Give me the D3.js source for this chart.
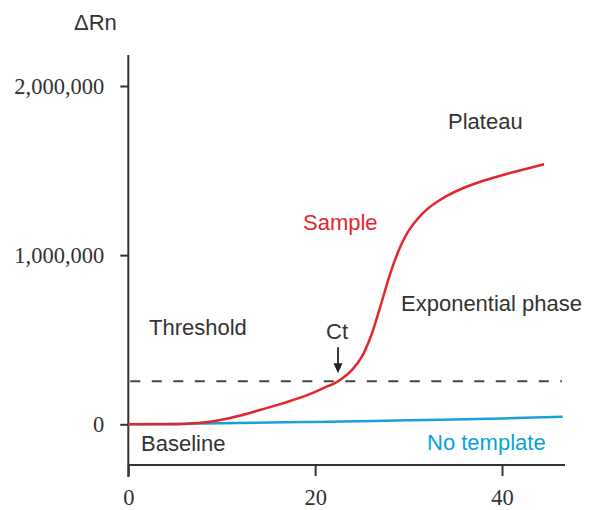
<!DOCTYPE html>
<html>
<head>
<meta charset="utf-8">
<script src="https://cdn.jsdelivr.net/npm/d3@7"></script>
<style>
  html, body { margin: 0; padding: 0; background: #fff; }
  svg { display: block; }
</style>
</head>
<body>
<svg id="chart" width="589" height="510"></svg>
<script>
// ---- data ----
const sampleCycles = [0, 2, 4, 6, 8, 10, 12, 14, 16, 17, 18, 19, 20, 21, 22, 23, 24, 25, 26, 27, 28, 29, 30, 31, 32, 33, 34, 36, 38, 40, 42, 44.5];
const sampleValues = [0, 0, 0, 2000, 10000, 27000, 52000, 83000, 115000, 132000, 150000, 170000, 192000, 217000, 240000, 275000, 325000, 400000, 525000, 700000, 885000, 1035000, 1143000, 1217000, 1272000, 1313000, 1348000, 1400000, 1440000, 1472000, 1502000, 1537000];
const noTemplateCycles = [0, 10, 20, 30, 40, 46.5];
const noTemplateValues = [0, 6000, 14000, 24000, 35000, 45000];
const thresholdValue = 254000;
const ctCycle = 22.5;
const yTicks = [0, 1000000, 2000000];
const xTicks = [0, 20, 40];
const yLabel = "ΔRn";
const annotations = [
  { text: "Plateau", x: 448, y: 129, color: "#333" },
  { text: "Sample", x: 303, y: 230, color: "#e3262c" },
  { text: "Threshold", x: 149, y: 335, color: "#333" },
  { text: "Exponential phase", x: 401, y: 311, color: "#333" },
  { text: "Baseline", x: 141, y: 451, color: "#333" },
  { text: "No template", x: 427, y: 450, color: "#0aa2dc" }
];

// ---- scales ----
const svg = d3.select("#chart");
const x = d3.scaleLinear().domain([0, 40]).range([128.3, 502]);
const y = d3.scaleLinear().domain([0, 2000000]).range([424.3, 86]);
const axisColor = "#333";
const serif = "'Liberation Serif', 'Times New Roman', serif";
const sans = "'Liberation Sans', Arial, sans-serif";

// ---- axes ----
const xAxisY = 465;
const yAxisG = svg.append("g").attr("transform", `translate(${x(0)},0)`);
yAxisG.call(d3.axisLeft(y).tickValues(yTicks).tickSize(8).tickPadding(16)
  .tickFormat(d3.format(",")));
yAxisG.select(".domain").remove();
yAxisG.append("line").attr("x1", 0).attr("x2", 0).attr("y1", 55).attr("y2", 477)
  .attr("stroke", axisColor).attr("stroke-width", 2);
yAxisG.selectAll(".tick line").attr("stroke", axisColor).attr("stroke-width", 2);
yAxisG.selectAll(".tick text").attr("font-family", serif).attr("font-size", 22.5)
  .attr("fill", "#333");

const xAxisG = svg.append("g").attr("transform", `translate(0,${xAxisY})`);
xAxisG.call(d3.axisBottom(x).tickValues(xTicks).tickSize(11).tickPadding(0)
  .tickFormat(d3.format("d")));
xAxisG.select(".domain").remove();
xAxisG.append("line").attr("x1", x(0)).attr("x2", 565).attr("y1", 0).attr("y2", 0)
  .attr("stroke", axisColor).attr("stroke-width", 2);
xAxisG.selectAll(".tick line").attr("stroke", axisColor).attr("stroke-width", 2);
xAxisG.selectAll(".tick text").attr("font-family", serif).attr("font-size", 22.5)
  .attr("fill", "#333").attr("dy", null).attr("y", 40);

// ---- threshold ----
svg.append("line")
  .attr("x1", x(0) + 2).attr("x2", 562)
  .attr("y1", y(thresholdValue)).attr("y2", y(thresholdValue))
  .attr("stroke", "#444").attr("stroke-width", 2)
  .attr("stroke-dasharray", "10,11.5");

// ---- curves ----
const line = d3.line().x(d => x(d[0])).y(d => y(d[1])).curve(d3.curveCatmullRom.alpha(0.5));
svg.append("path")
  .datum(noTemplateCycles.map((c, i) => [c, noTemplateValues[i]]))
  .attr("d", line).attr("fill", "none")
  .attr("stroke", "#1b9fd8").attr("stroke-width", 2.5);
svg.append("path")
  .datum(sampleCycles.map((c, i) => [c, sampleValues[i]]))
  .attr("d", line).attr("fill", "none")
  .attr("stroke", "#e3262c").attr("stroke-width", 2.5);

// ---- Ct arrow ----
const ctX = x(ctCycle) - 0.5;
const ctTipY = y(thresholdValue) - 8;
svg.append("line").attr("x1", ctX).attr("x2", ctX)
  .attr("y1", ctTipY - 26).attr("y2", ctTipY - 6)
  .attr("stroke", "#222").attr("stroke-width", 1.8);
svg.append("path")
  .attr("d", `M${ctX - 4.5},${ctTipY - 10} L${ctX + 4.5},${ctTipY - 10} L${ctX},${ctTipY} Z`)
  .attr("fill", "#222");
svg.append("text").attr("x", ctX - 1).attr("y", 338.5)
  .attr("text-anchor", "middle").attr("font-family", sans).attr("font-size", 22)
  .attr("fill", "#333").text("Ct");

// ---- labels ----
svg.append("text").attr("x", 74).attr("y", 29.5)
  .attr("font-family", sans).attr("font-size", 22).attr("fill", "#333").text(yLabel);
svg.selectAll("text.ann").data(annotations).enter().append("text")
  .attr("class", "ann")
  .attr("x", d => d.x).attr("y", d => d.y)
  .attr("font-family", sans).attr("font-size", d => d.size || 22)
  .attr("fill", d => d.color).text(d => d.text);
</script>
</body>
</html>
